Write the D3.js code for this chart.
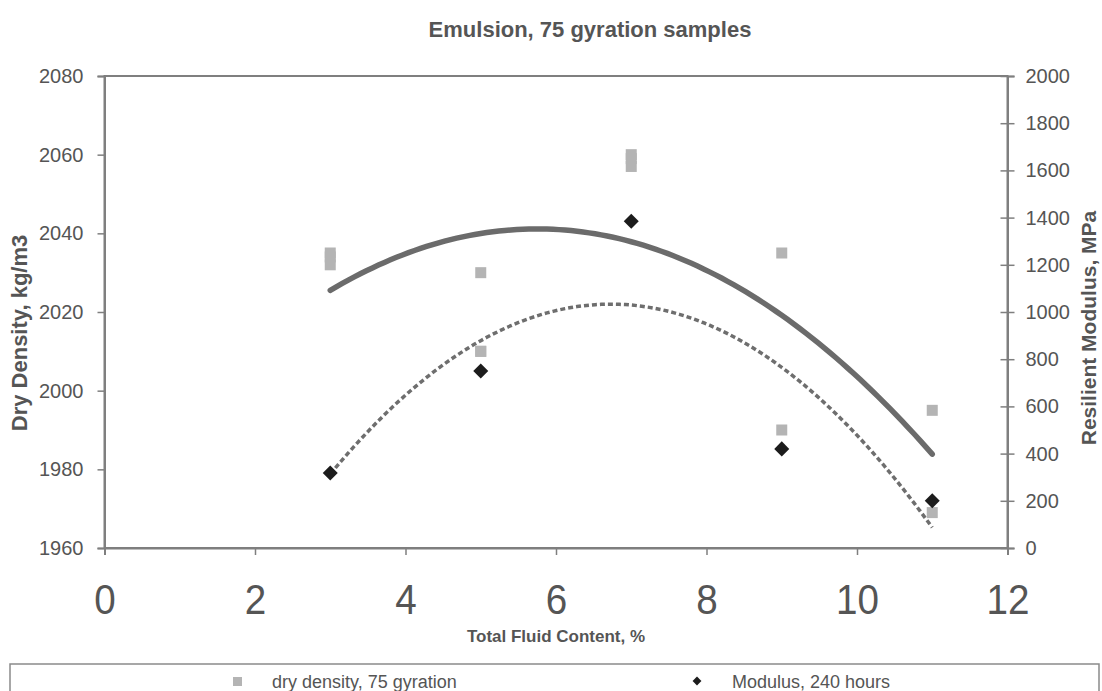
<!DOCTYPE html>
<html>
<head>
<meta charset="utf-8">
<script src="https://cdn.jsdelivr.net/npm/d3@7"></script>
<style>
  html, body { margin: 0; padding: 0; background: #fff; }
  svg { display: block; }
  text { font-family: "Liberation Sans", Arial, Helvetica, sans-serif; fill: #555; }
</style>
</head>
<body>
<svg id="chart" width="1102" height="691"></svg>
<script>
// Axis tick values
const xTicks = [0, 2, 4, 6, 8, 10, 12];
const densityTicks = [1960, 1980, 2000, 2020, 2040, 2060, 2080];
const modulusTicks = [0, 200, 400, 600, 800, 1000, 1200, 1400, 1600, 1800, 2000];

// Dry density of the 75-gyration samples (kg/m3) against total fluid content (%)
const densityFluid = [3, 3, 3, 5, 5, 5, 7, 7, 7, 9, 9, 11, 11];
const densityValues = [2035, 2034, 2032, 2030, 2010, 2010, 2060, 2059, 2057, 2035, 1990, 1995, 1969];

// Resilient modulus after 240 hours (MPa)
const modulusFluid = [3, 5, 7, 9, 11];
const modulusValues = [318, 750, 1385, 420, 200];

const seriesNames = ["dry density, 75 gyration", "Modulus, 240 hours"];

const svg = d3.select("#chart");
const plot = { left: 104.5, right: 1007.5, top: 76, bottom: 548 };

const x = d3.scaleLinear().domain([0, 12]).range([plot.left, plot.right]);
const yL = d3.scaleLinear().domain([1960, 2080]).range([plot.bottom, plot.top]);
const yR = d3.scaleLinear().domain([0, 2000]).range([plot.bottom, plot.top]);

const axisColor = "#7f7f7f";

// Second-order least-squares trend line
function quadFit(xs, ys) {
  const s = [0, 0, 0, 0, 0], t = [0, 0, 0];
  xs.forEach((xi, i) => {
    for (let k = 0; k <= 4; k++) s[k] += Math.pow(xi, k);
    for (let k = 0; k <= 2; k++) t[k] += Math.pow(xi, k) * ys[i];
  });
  const A = [[s[0], s[1], s[2]], [s[1], s[2], s[3]], [s[2], s[3], s[4]]];
  const det = m => m[0][0] * (m[1][1] * m[2][2] - m[1][2] * m[2][1])
    - m[0][1] * (m[1][0] * m[2][2] - m[1][2] * m[2][0])
    + m[0][2] * (m[1][0] * m[2][1] - m[1][1] * m[2][0]);
  const D = det(A);
  const coef = [0, 1, 2].map(j => det(A.map((row, r) => row.map((v, c) => (c === j ? t[r] : v)))) / D);
  return xv => coef[0] + coef[1] * xv + coef[2] * xv * xv;
}

// Plot frame
svg.append("rect")
  .attr("x", plot.left).attr("y", plot.top)
  .attr("width", plot.right - plot.left).attr("height", plot.bottom - plot.top)
  .attr("fill", "none").attr("stroke", axisColor).attr("stroke-width", 2);

// Left axis
const gL = svg.append("g").attr("transform", `translate(${plot.left},0)`)
  .call(d3.axisLeft(yL).tickValues(densityTicks).tickSize(7).tickPadding(14).tickFormat(d3.format("d")));
// Right axis (ticks cross the line)
const gR = svg.append("g").attr("transform", `translate(${plot.right},0)`)
  .call(d3.axisRight(yR).tickValues(modulusTicks).tickSize(7).tickPadding(11).tickFormat(d3.format("d")));
gR.selectAll(".tick line").attr("x1", -7);
// Bottom axis
const gB = svg.append("g").attr("transform", `translate(0,${plot.bottom})`)
  .call(d3.axisBottom(x).tickValues(xTicks).tickSize(7).tickFormat(d3.format("d")));

[gL, gR, gB].forEach(g => {
  g.select(".domain").attr("stroke", axisColor).attr("stroke-width", 2);
  g.selectAll(".tick line").attr("stroke", axisColor).attr("stroke-width", 1.5);
  g.selectAll(".tick text").attr("fill", "#555").style("font-family", "Liberation Sans, Arial, sans-serif");
});
gL.selectAll(".tick text").style("font-size", "20px");
gR.selectAll(".tick text").style("font-size", "20px");
// Large fluid-content labels
gB.selectAll(".tick text")
  .style("font-size", "42px")
  .attr("dy", null).attr("y", 66)
  .attr("transform", "scale(0.92,1)");

// Trend lines
const densityTrend = quadFit(densityFluid, densityValues);
const modulusTrend = quadFit(modulusFluid, modulusValues);
const xs = d3.range(0, 101).map(i => 3 + i * 8 / 100);

svg.append("path")
  .datum(xs)
  .attr("fill", "none").attr("stroke", "#6b6b6b").attr("stroke-width", 5.5)
  .attr("stroke-linecap", "round")
  .attr("d", d3.line().x(d => x(d)).y(d => yL(densityTrend(d))));

svg.append("path")
  .datum(xs)
  .attr("fill", "none").attr("stroke", "#6e6e6e").attr("stroke-width", 3.5)
  .attr("stroke-dasharray", "5,3")
  .attr("d", d3.line().x(d => x(d)).y(d => yR(modulusTrend(d))));

// Density points (squares)
const sq = 11;
svg.append("g").selectAll("rect")
  .data(densityFluid.map((f, i) => ({ f, v: densityValues[i] })))
  .join("rect")
  .attr("x", d => x(d.f) - sq / 2).attr("y", d => yL(d.v) - sq / 2)
  .attr("width", sq).attr("height", sq)
  .attr("fill", "#b4b4b4");

// Modulus points (diamonds)
const diamond = d3.symbol().type(d3.symbolDiamond2).size(144);
svg.append("g").selectAll("path")
  .data(modulusFluid.map((f, i) => ({ f, v: modulusValues[i] })))
  .join("path")
  .attr("d", diamond)
  .attr("transform", d => `translate(${x(d.f)},${yR(d.v)})`)
  .attr("fill", "#1c1c1c");

// Titles
svg.append("text")
  .attr("x", 590).attr("y", 37).attr("text-anchor", "middle")
  .style("font-size", "22px").style("font-weight", "bold")
  .text("Emulsion, 75 gyration samples");

svg.append("text")
  .attr("x", 556).attr("y", 642).attr("text-anchor", "middle")
  .style("font-size", "17px").style("font-weight", "bold")
  .text("Total Fluid Content, %");

svg.append("text")
  .attr("transform", "translate(27,333) rotate(-90)")
  .attr("text-anchor", "middle")
  .style("font-size", "22px").style("font-weight", "bold")
  .text("Dry Density, kg/m3");

svg.append("text")
  .attr("transform", "translate(1096,328) rotate(-90)")
  .attr("text-anchor", "middle")
  .style("font-size", "21px").style("font-weight", "bold")
  .text("Resilient Modulus, MPa");

// Legend
const lg = svg.append("g");
lg.append("rect")
  .attr("x", 10).attr("y", 664).attr("width", 1089).attr("height", 40)
  .attr("fill", "#fff").attr("stroke", "#8a8a8a").attr("stroke-width", 1.5);
lg.append("rect").attr("x", 233).attr("y", 677).attr("width", 9).attr("height", 9).attr("fill", "#b4b4b4");
lg.append("text").attr("x", 272).attr("y", 688).style("font-size", "18px").text(seriesNames[0]);
lg.append("path").attr("d", d3.symbol().type(d3.symbolDiamond2).size(50))
  .attr("transform", "translate(697,681)").attr("fill", "#1c1c1c");
lg.append("text").attr("x", 732).attr("y", 688).style("font-size", "18px").text(seriesNames[1]);
</script>
</body>
</html>
